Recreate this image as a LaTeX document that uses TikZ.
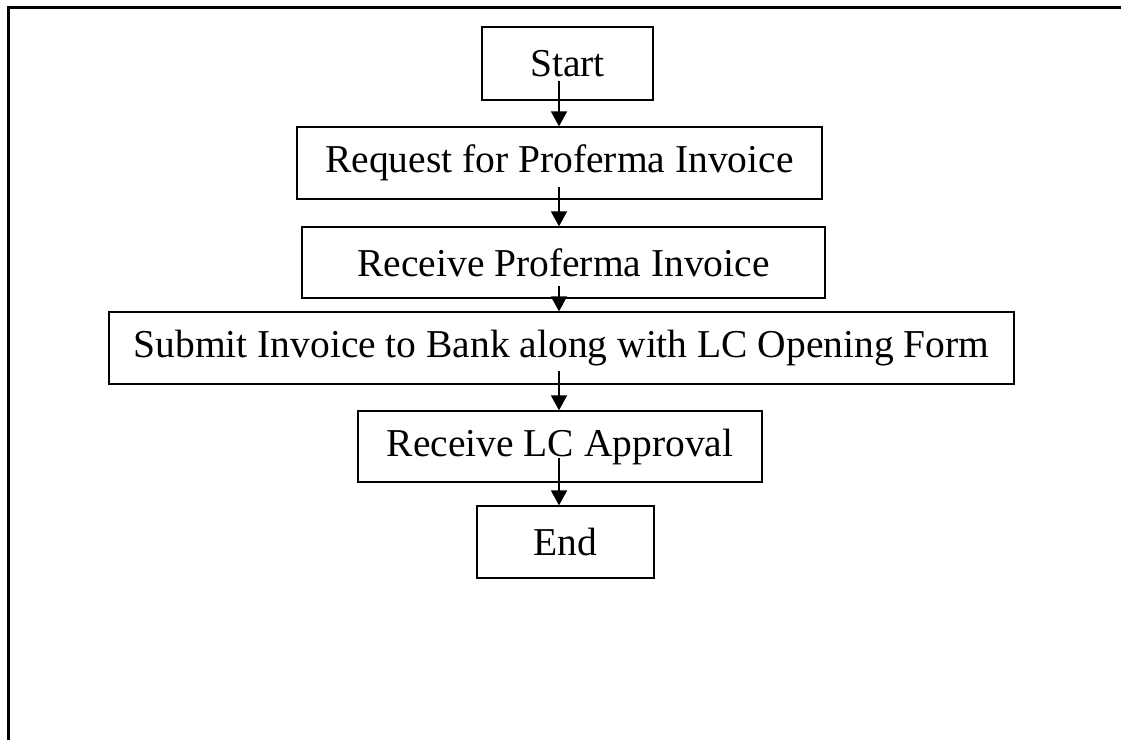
\documentclass[tikz,border=0pt]{standalone}
\usepackage{fontspec}
\setmainfont{Liberation Serif}
\usetikzlibrary{arrows.meta,calc}
\begin{document}
\begin{tikzpicture}[x=1pt,y=-1pt,
  stepbox/.style={draw, line width=1.3pt, inner sep=0pt, font=\fontsize{39.5}{46}\selectfont},
  flow/.style={line width=1.8pt, -{Triangle[length=15pt,width=16pt]}},
  pageframe/.style={line width=3pt}]
\useasboundingbox (0,0) rectangle (1121,740);
% page frame (top and left edges)
\draw[pageframe] (8,740) -- (8,7) -- (1121,7);
% process steps
\node[stepbox, minimum width=171pt, minimum height=73pt] (start)   at (567.5,63.5) {Start};
\node[stepbox, minimum width=525pt, minimum height=72pt] (request) at (559.5,163)  {Request for Proferma Invoice};
\node[stepbox, minimum width=523pt, minimum height=71pt] (recvpi)  at (563.5,262.5){Receive Proferma Invoice};
\node[stepbox, minimum width=905pt, minimum height=72pt] (submit)  at (561.5,348)  {Submit Invoice to Bank along with LC Opening Form};
\node[stepbox, minimum width=404pt, minimum height=71pt] (recvlc)  at (560,446.5)  {Receive LC Approval};
\node[stepbox, minimum width=177pt, minimum height=72pt] (endbox)  at (565.5,542)  {End};
% common vertical axis of the arrows
\coordinate (axis) at (559,0);
\draw[flow] ($(start.south -| axis)+(0,-20)$)   -- (request.north -| axis);
\draw[flow] ($(request.south -| axis)+(0,-13)$) -- (recvpi.north -| axis);
\draw[flow] ($(recvpi.south -| axis)+(0,-13)$)  -- (submit.north -| axis);
\draw[flow] ($(submit.south -| axis)+(0,-14)$)  -- (recvlc.north -| axis);
\draw[flow] ($(recvlc.south -| axis)+(0,-25)$)  -- (endbox.north -| axis);
\end{tikzpicture}
\end{document}
